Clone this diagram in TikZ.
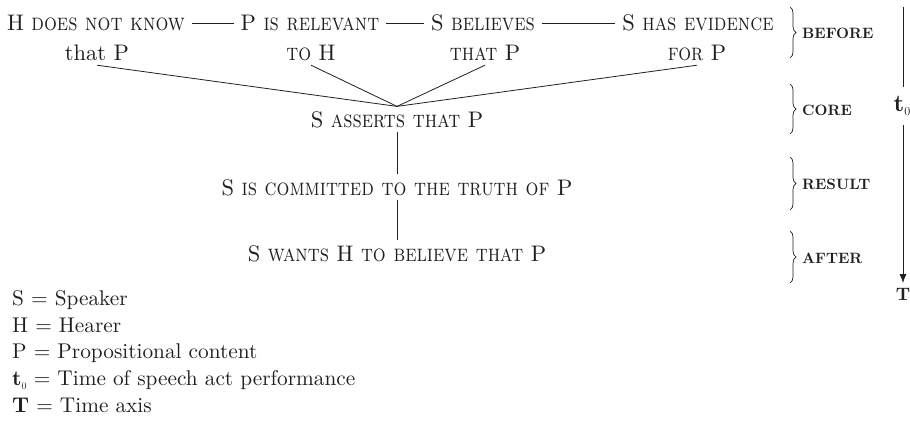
\documentclass[tikz,border=0pt]{standalone}
\usepackage{fontspec}
\setmainfont{lmroman10-regular.otf}[
  BoldFont=lmroman10-bold.otf,
  SmallCapsFont=lmromancaps10-regular.otf,
  SmallCapsFeatures={Scale=1.06, FakeStretch=0.85}]
\usetikzlibrary{decorations.pathreplacing,arrows.meta}
\definecolor{ink}{HTML}{231F20}
\newcommand\mainsize{\fontsize{22.5}{27}\selectfont}
\newcommand\keysize{\fontsize{21.3}{25}\selectfont}
\newcommand\tagsize{\fontsize{15}{18}\selectfont}
\newcommand\tnought[1]{\textbf{t}\raisebox{-0.45ex}{\fontsize{#1}{12}\selectfont 0}}
\tikzset{
  stage/.style={font=\mainsize, text=ink, inner xsep=7pt, inner ysep=5pt,
    text height=15.4pt, text depth=0pt, anchor=base},
  link/.style={draw=ink, line width=0.8pt},
  phase/.style={font=\tagsize\bfseries, text=ink, anchor=base west, inner sep=0pt},
  curly/.style={draw=ink, line width=0.7pt,
    decorate, decoration={brace, amplitude=6pt}},
  keyline/.style={font=\keysize, text=ink, anchor=base west, inner sep=0pt},
}
\begin{document}
\begin{tikzpicture}[x=1pt, y=-1pt]
  \useasboundingbox (0,0) rectangle (910,423);

  % preconditions, first and second lines
  \node[stage] (hk)  at (96,30)  {H \textsc{does not know}};
  \node[stage] (hk2) at (97,60)  {that P};
  \node[stage] (pr)  at (310,30) {P \textsc{is relevant}};
  \node[stage] (pr2) at (311,60) {\textsc{to} H};
  \node[stage] (sb)  at (483,30) {S \textsc{believes}};
  \node[stage] (sb2) at (485,60) {\textsc{that} P};
  \node[stage] (se)  at (698,30) {S \textsc{has evidence}};
  \node[stage] (se2) at (697,60) {\textsc{for} P};

  % core act and its consequences
  \node[stage] (core) at (397,127) {S \textsc{asserts that} P};
  \node[stage] (res)  at (397,195) {S \textsc{is committed to the truth of} P};
  \node[stage] (aft)  at (397,261) {S \textsc{wants} H \textsc{to believe that} P};

  % dashes joining the preconditions
  \draw[link] ([yshift=-1.5pt]hk.east) -- ([yshift=-1.5pt]pr.west);
  \draw[link] ([yshift=-1.5pt]pr.east) -- ([yshift=-1.5pt]sb.west);
  \draw[link] ([yshift=-1.5pt]sb.east) -- ([yshift=-1.5pt]se.west);

  % preconditions converge on the core act
  \foreach \n in {hk2,pr2,sb2,se2}
    \draw[link] (\n.south) -- (core.north);
  \draw[link] (core.south) -- (res.north);
  \draw[link] (res.south) -- (aft.north);

  % phase braces
  \draw[curly] (790,7)   -- (790,58);
  \draw[curly] (790,84)  -- (790,134);
  \draw[curly] (790,157) -- (790,210);
  \draw[curly] (790,231) -- (790,283);
  \node[phase] (before) at (802,38)  {BEFORE};
  \node[phase] (coretag) at (802,115) {CORE};
  \node[phase] (result) at (802,189) {RESULT};
  \node[phase] (after) at (802,263)  {AFTER};

  % time axis
  \coordinate (axtop) at (903,7);
  \coordinate (axend) at (903,283);
  \node[font=\fontsize{24}{26}\selectfont, text=ink, inner sep=0pt,
        minimum height=38pt] (t0) at (902,106) {\tnought{12}};
  \draw[link] (axtop) -- (axtop |- t0.north);
  \draw[link, -{Latex[length=9pt,width=7pt]}] (axtop |- t0.south) -- (axend);
  \node[font=\fontsize{18}{20}\selectfont\bfseries, text=ink, anchor=base,
        inner sep=0pt] (T) at (903,300) {T};

  % key
  \node[keyline] (k1) at (12,305) {S = Speaker};
  \node[keyline] (k2) at (12,332) {H = Hearer};
  \node[keyline] (k3) at (12,358) {P = Propositional content};
  \node[keyline] (k4) at (12,385) {\tnought{10} = Time of speech act performance};
  \node[keyline] (k5) at (12,412) {\textbf{T} = Time axis};
\end{tikzpicture}
\end{document}
